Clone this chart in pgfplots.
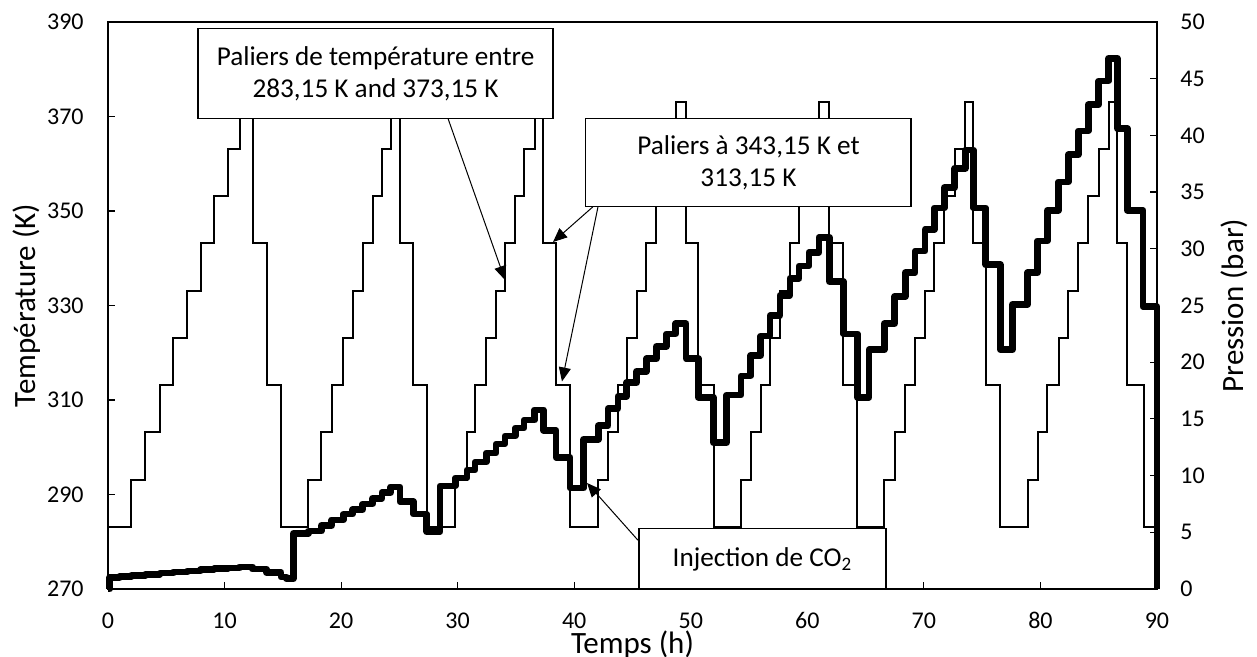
\documentclass[border=0pt]{standalone}
\usepackage{pgfplots}
\pgfplotsset{compat=1.18}
\usepackage{fontspec}
\setmainfont{Carlito}
\usetikzlibrary{arrows.meta}

\pgfplotsset{
  base/.style={
    scale only axis, width=524.5pt, height=283.5pt,
    xmin=0, xmax=90,
    tick align=inside,
    major tick length=3.5pt,
    every tick/.style={black, line width=0.6pt},
    axis line style={line width=0.8pt},
    tick label style={font=\fontsize{12}{14}\selectfont},
    label style={font=\fontsize{15.5}{18}\selectfont},
    /pgf/number format/assume math mode=true,
  },
}
\tikzset{
  boxtext/.style={align=center, font=\fontsize{13.6}{15.8}\selectfont},
  callout/.style={-{Triangle[length=7pt,width=6pt]}, line width=0.5pt},
}

\begin{document}
\begin{tikzpicture}
\useasboundingbox (-54pt,-34pt) rectangle (574.5pt,294.5pt);

% temperature (left axis)
\begin{axis}[base,
  ymin=270, ymax=390, ytick={270,290,...,390},
  xtick={0,10,...,90},
  xtick pos=left, ytick pos=left,
  xticklabel style={anchor=base, inner sep=0pt, yshift=-19.8pt},
  yticklabel style={anchor=east, inner sep=0pt, xshift=-12pt},
  xlabel={Temps (h)}, ylabel={Température (K)},
  xlabel style={at={(axis description cs:0.5,-0.0975)}, anchor=center},
  ylabel style={at={(axis description cs:-0.0775,0.5)}, anchor=center},
]
\addplot[const plot, black, line width=1pt] coordinates {
  (0,283.15)
  (2.0,293.15) (3.2,303.15) (4.45,313.15) (5.6,323.15) (6.8,333.15)
  (7.95,343.15) (9.1,353.15) (10.3,363.15) (11.3,373.15)
  (12.4,343.15) (13.6,313.15) (14.85,283.15)
  (17.2,293.15) (18.3,303.15) (19.2,313.15) (20.2,323.15) (21.0,333.15)
  (21.85,343.15) (22.7,353.15) (23.5,363.15) (24.25,373.15)
  (25.05,343.15) (26.2,313.15) (27.35,283.15)
  (29.8,293.15) (30.8,303.15) (31.5,313.15) (32.45,323.15) (33.3,333.15)
  (34.05,343.15) (34.95,353.15) (35.7,363.15) (36.6,373.15)
  (37.35,343.15) (38.45,313.15) (39.65,283.15)
  (42.07,293.15) (42.9,303.15) (43.75,313.15) (44.5,323.15) (45.35,333.15)
  (46.2,343.15) (47.05,353.15) (47.9,363.15) (48.7,373.15)
  (49.6,343.15) (50.65,313.15) (51.95,283.15)
  (54.3,293.15) (55.15,303.15) (56.0,313.15) (56.8,323.15) (57.65,333.15)
  (58.5,343.15) (59.3,353.15) (60.15,363.15) (61.0,373.15)
  (61.9,343.15) (63.1,313.15) (64.3,283.15)
  (66.6,293.15) (67.5,303.15) (68.4,313.15) (69.25,323.15) (70.1,333.15)
  (70.9,343.15) (71.75,353.15) (72.65,363.15) (73.55,373.15)
  (74.25,343.15) (75.3,313.15) (76.55,283.15)
  (78.9,293.15) (79.75,303.15) (80.6,313.15) (81.55,323.15) (82.4,333.15)
  (83.25,343.15) (84.1,353.15) (85.0,363.15) (85.85,373.15)
  (86.6,343.15) (87.45,313.15) (88.85,283.15) (90,283.15)
};
\end{axis}

% pressure (right axis)
\begin{axis}[base,
  ymin=0, ymax=50, ytick={0,5,...,50},
  axis x line=none, axis y line*=right,
  yticklabel style={anchor=west, inner sep=0pt, xshift=11.5pt},
  ylabel={Pression (bar)},
  ylabel style={at={(axis description cs:1.0735,0.5)}, anchor=center},
  clip=false,
]
\addplot[const plot, black, line width=3.3pt, line join=round] coordinates {
  (0,0) (0.15,1.0) (1.0,1.1) (2.0,1.2) (3.2,1.3) (4.45,1.4) (5.6,1.5)
  (6.8,1.6) (7.95,1.7) (9.1,1.8) (10.3,1.85) (11.3,1.95)
  (12.4,1.75) (13.6,1.45) (14.85,1.05) (15.3,0.9)
  (15.9,4.9)
  (17.2,5.1) (18.3,5.6) (19.2,6.1) (20.2,6.6) (21.0,7.0)
  (21.85,7.5) (22.7,8.0) (23.5,8.5) (24.25,9.0)
  (25.05,7.7) (26.2,6.6) (27.35,5.05)
  (28.5,9.1)
  (29.8,9.8) (30.8,10.5) (31.5,11.2) (32.45,12.0) (33.3,12.8)
  (34.05,13.5) (34.95,14.2) (35.7,14.9) (36.6,15.8)
  (37.35,14.0) (38.45,11.6) (39.65,8.9)
  (40.8,13.2)
  (42.07,14.4) (42.9,15.9) (43.75,17.0) (44.5,18.2) (45.35,19.2)
  (46.2,20.3) (47.05,21.4) (47.9,22.5) (48.7,23.4)
  (49.6,20.3) (50.65,16.9) (51.95,12.9)
  (53.07,17.1)
  (54.3,18.8) (55.15,20.6) (56.0,22.3) (56.8,24.1) (57.65,25.9)
  (58.5,27.4) (59.3,28.5) (60.15,29.7) (61.0,31.0)
  (61.9,27.1) (63.1,22.5) (64.3,16.9)
  (65.3,21.1)
  (66.6,23.4) (67.5,25.8) (68.4,27.9) (69.25,29.8) (70.1,31.7)
  (70.9,33.6) (71.75,35.4) (72.65,37.1) (73.55,38.7)
  (74.25,33.6) (75.3,28.6) (76.55,21.1)
  (77.6,25.1)
  (78.9,27.9) (79.75,30.7) (80.6,33.4) (81.55,35.9) (82.4,38.3)
  (83.25,40.4) (84.1,42.7) (85.0,44.8) (85.85,46.8)
  (86.6,40.6) (87.45,33.4) (88.8,24.9) (90,0)
};

% annotations
\draw[fill=white, line width=0.6pt] (axis cs:7.72,49.4) rectangle (axis cs:38.18,41.5);
\node[boxtext] at (axis cs:22.95,45.45) {Paliers de température entre\\283,15 K and 373,15 K};
\draw[fill=white, line width=0.6pt] (axis cs:41.0,41.5) rectangle (axis cs:68.9,33.7);
\node[boxtext] at (axis cs:54.95,37.6) {Paliers à 343,15 K et\\313,15 K};
\draw[fill=white, line width=0.6pt] (axis cs:45.56,5.3) rectangle (axis cs:66.75,0);
\node[boxtext] at (axis cs:56.15,2.65) {Injection de CO\textsubscript{2}};

\draw[callout] (axis cs:29.17,41.5) -- (axis cs:34.06,27.25);
\draw[callout] (axis cs:41.6,33.7) -- (axis cs:38.18,30.6);
\draw[callout] (axis cs:42.04,33.7) -- (axis cs:38.95,18.3);
\draw[callout] (axis cs:45.47,4.3) -- (axis cs:41.1,9.35);
\end{axis}
\end{tikzpicture}
\end{document}
